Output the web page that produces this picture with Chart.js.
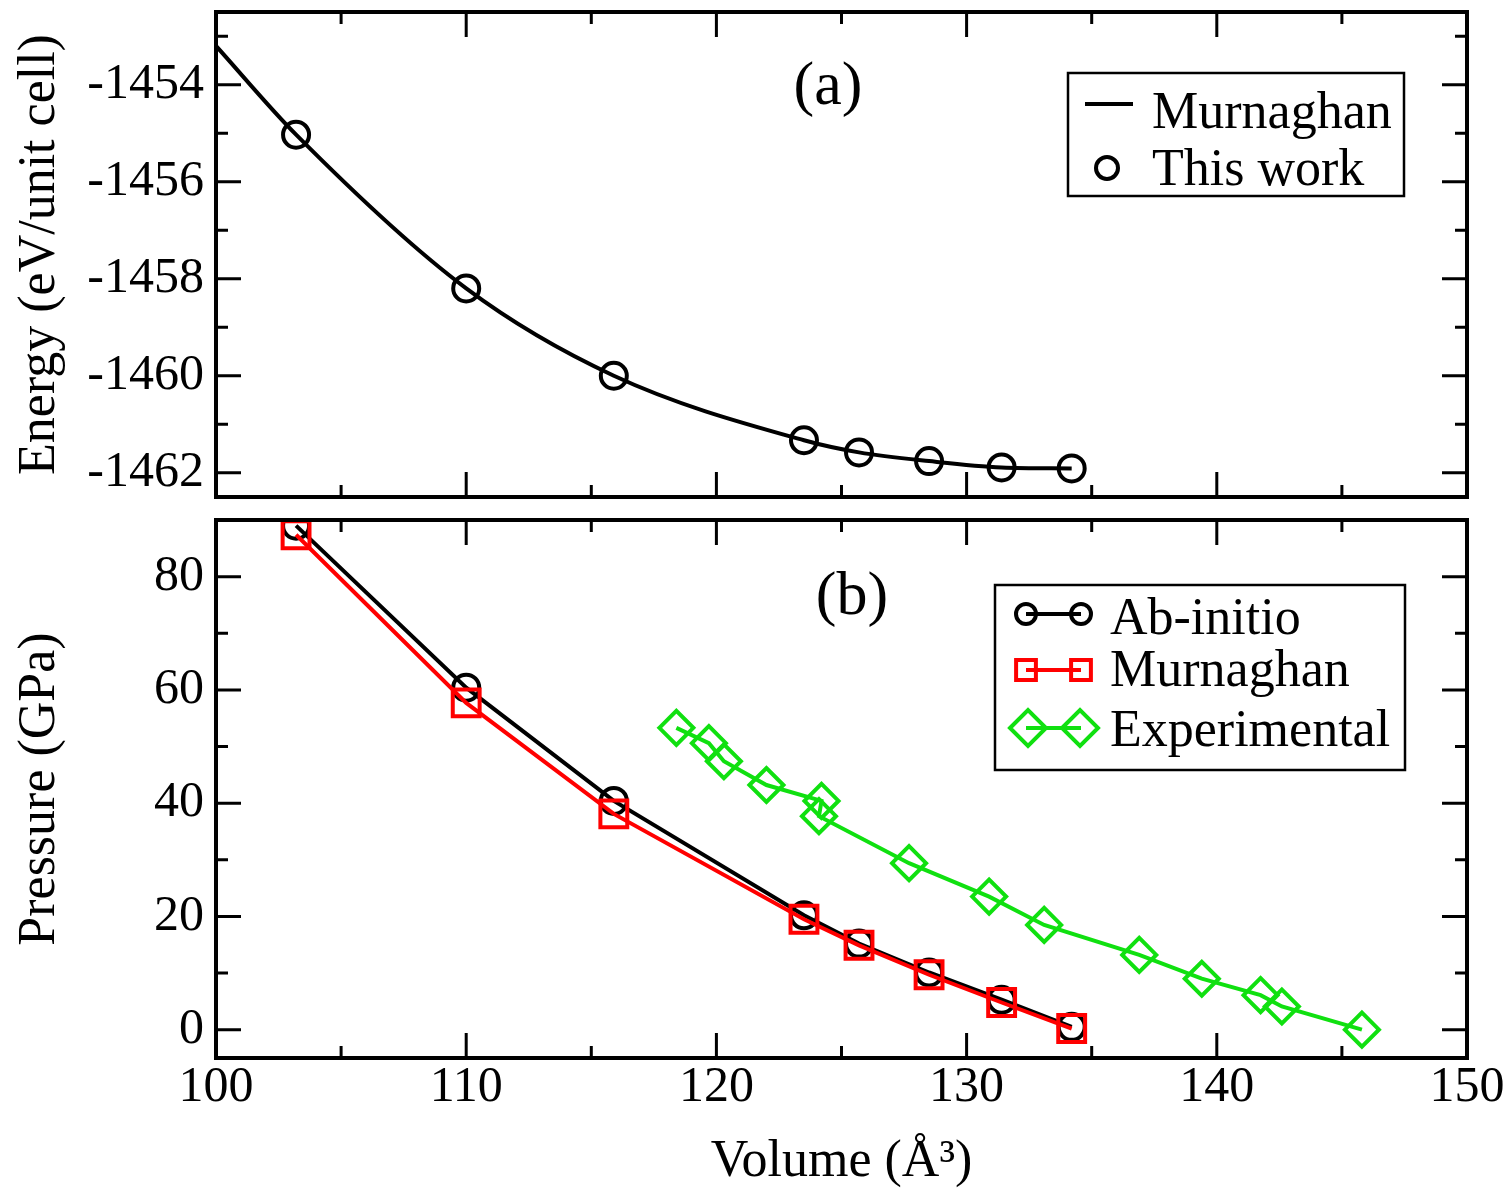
<!DOCTYPE html>
<html>
<head>
<meta charset="utf-8">
<script src="https://cdn.jsdelivr.net/npm/chart.js@4.4.0/dist/chart.umd.min.js"></script>
<style>
  body { margin: 0; background: #fff; font-family: "Liberation Serif", serif; }
  #wrap { position: relative; width: 1509px; height: 1188px; overflow: hidden; }
  canvas { position: absolute; left: 0; }
  #probe { position: absolute; left: -9999px; font-family: "Liberation Serif"; }
</style>
</head>
<body>
<div id="probe">Volume 0123456789</div>
<div id="wrap">
  <canvas id="energyChart" width="1509" height="510" style="top:0px"></canvas>
  <canvas id="pressureChart" width="1509" height="678" style="top:510px"></canvas>
</div>
<script>
// shared volume axis
const volumeTicks = [100, 110, 120, 130, 140, 150]
const volumeMinor = [105, 115, 125, 135, 145]

// (a) energy vs volume
const calcVolume = [103.2, 110.0, 115.9, 123.5, 125.7, 128.5, 131.4, 134.2]
const calcEnergy = [-1455.03, -1458.2, -1460.0, -1461.33, -1461.58, -1461.76, -1461.89, -1461.91]
const fitVolume = [100, 103.2, 110.0, 115.9, 123.5, 125.7, 128.5, 131.4, 134.2]
const fitEnergy = [-1453.2, -1455.03, -1458.2, -1460.0, -1461.33, -1461.58, -1461.76, -1461.89, -1461.91]
const energyTicks = [-1462, -1460, -1458, -1456, -1454]
const energyMinor = [-1461, -1459, -1457, -1455, -1453]

// (b) pressure vs volume (ab-initio and murnaghan use calcVolume)
const abinitioPressure = [89.0, 60.4, 40.4, 20.2, 15.2, 10.1, 5.3, 0.5]
const murnaghanPressure = [87.4, 57.7, 38.1, 19.5, 14.9, 9.7, 4.8, 0.2]
const expVolume = [118.4, 119.7, 120.3, 122.0, 124.2, 124.1, 127.7, 130.9, 133.1, 136.9, 139.4, 141.75, 142.6, 145.8]
const expPressure = [53.3, 50.6, 47.4, 43.2, 40.4, 37.7, 29.4, 23.5, 18.5, 13.2, 9.0, 6.1, 4.1, 0.0]
const pressureTicks = [0, 20, 40, 60, 80]
const pressureMinor = [10, 30, 50, 70]

const SERIF = '"Liberation Serif", "Times New Roman", Times, serif'
const GREEN = '#10e010'
const RED = '#ff0000'

function pts(xs, ys) {
    return xs.map((x, i) => ({ x: x, y: ys[i] }))
}

// frame with inward ticks on all sides, panel label and boxed legend
// (label / legend positions are page coordinates)
const framePlugin = {
    id: 'frame',
    afterDraw(chart, args, o) {
        const ctx = chart.ctx
        const a = chart.chartArea
        const sx = chart.scales.x
        const sy = chart.scales.y
        const off = parseFloat(chart.canvas.style.top) || 0
        ctx.save()
        ctx.strokeStyle = '#000'
        ctx.lineWidth = 3
        ctx.beginPath()
        const xt = (vals, len) => vals.forEach(v => {
            const px = sx.getPixelForValue(v)
            ctx.moveTo(px, a.bottom); ctx.lineTo(px, a.bottom - len)
            ctx.moveTo(px, a.top); ctx.lineTo(px, a.top + len)
        })
        const yt = (vals, len) => vals.forEach(v => {
            const py = sy.getPixelForValue(v)
            ctx.moveTo(a.left, py); ctx.lineTo(a.left + len, py)
            ctx.moveTo(a.right, py); ctx.lineTo(a.right - len, py)
        })
        xt(volumeTicks, 25)
        xt(volumeMinor, 12)
        yt(o.yMajor, 25)
        yt(o.yMinor, 12)
        ctx.stroke()
        ctx.lineWidth = 4
        ctx.strokeRect(a.left, a.top, a.right - a.left, a.bottom - a.top)

        ctx.translate(0, -off)
        ctx.fillStyle = '#000'
        ctx.textAlign = 'center'
        ctx.textBaseline = 'middle'
        ctx.font = '62px ' + SERIF
        ctx.fillText(o.label, o.labelX, o.labelY)

        // legend box
        const b = o.legend.box
        ctx.fillStyle = '#fff'
        ctx.fillRect(b[0], b[1], b[2] - b[0], b[3] - b[1])
        ctx.lineWidth = 2.5
        ctx.strokeRect(b[0], b[1], b[2] - b[0], b[3] - b[1])
        ctx.textAlign = 'left'
        ctx.textBaseline = 'alphabetic'
        ctx.font = '52px ' + SERIF
        o.legend.rows.forEach(r => {
            const ds = chart.data.datasets[r.ds]
            ctx.strokeStyle = ds.borderColor
            ctx.fillStyle = 'rgba(0,0,0,0)'
            if (r.line) {
                ctx.lineWidth = 4
                ctx.beginPath()
                ctx.moveTo(r.line[0], r.my)
                ctx.lineTo(r.line[1], r.my)
                ctx.stroke()
            }
            if (r.marks) {
                r.marks.forEach(mx => {
                    Chart.helpers.drawPoint(ctx, {
                        pointStyle: ds.pointStyle, radius: r.radius, borderWidth: 4, rotation: 0
                    }, mx, r.my)
                })
            }
            ctx.fillStyle = '#000'
            ctx.fillText(ds.label, o.legend.textX, r.base)
        })
        ctx.restore()
    }
}

function yAxis(min, max, ticks, title) {
    return {
        type: 'linear',
        min: min,
        max: max,
        afterBuildTicks: s => { s.ticks = ticks.map(v => ({ value: v })) },
        afterFit: s => {
            s.width = 216
            s.paddingTop = 0
            s.paddingBottom = 0
        },
        grid: { display: false, drawTicks: false },
        border: { display: false },
        ticks: {
            padding: 12, color: '#000', font: { family: SERIF, size: 50 },
            callback: v => String(v)
        },
        title: {
            display: true, text: title, color: '#000',
            font: { family: SERIF, size: 52, lineHeight: 1 },
            padding: { top: 14, bottom: 0 }
        }
    }
}

// grow/shift the canvas until the plot frame sits on the wanted page rows
function pinFrame(chart, top, bottom) {
    for (let i = 0; i < 3; i++) {
        const a = chart.chartArea
        const grow = Math.round((bottom - top) - (a.bottom - a.top))
        if (grow === 0) break
        chart.resize(chart.width, chart.height + grow)
    }
    chart.canvas.style.top = Math.round(top - chart.chartArea.top) + 'px'
    chart.draw()
}

const baseOptions = {
    responsive: false,
    maintainAspectRatio: false,
    animation: false,
    devicePixelRatio: 1
}

function build() {
    Chart.defaults.font.family = SERIF

    const energyChart = new Chart(document.getElementById('energyChart'), {
        type: 'scatter',
        data: {
            datasets: [{
                label: 'Murnaghan',
                data: pts(fitVolume, fitEnergy),
                showLine: true,
                borderColor: '#000',
                borderWidth: 4,
                pointRadius: 0,
                cubicInterpolationMode: 'monotone',
                order: 1
            }, {
                label: 'This work',
                data: pts(calcVolume, calcEnergy),
                pointStyle: 'circle',
                pointRadius: 13,
                pointBorderWidth: 4,
                borderColor: '#000',
                backgroundColor: 'rgba(0,0,0,0)',
                order: 0
            }]
        },
        options: Object.assign({}, baseOptions, {
            layout: { padding: { top: 12, right: 42, bottom: 13, left: 0 } },
            plugins: {
                legend: { display: false },
                tooltip: { enabled: false },
                frame: {
                    yMajor: energyTicks, yMinor: energyMinor,
                    label: '(a)', labelX: 828, labelY: 88,
                    legend: {
                        box: [1068, 73, 1404, 196],
                        textX: 1152,
                        rows: [
                            { ds: 0, line: [1085, 1133], my: 104, base: 128 },
                            { ds: 1, marks: [1107], radius: 11, my: 168, base: 185 }
                        ]
                    }
                }
            },
            scales: {
                x: { type: 'linear', display: false, min: 100, max: 150 },
                y: yAxis(-1462.5, -1452.5, energyTicks, 'Energy (eV/unit cell)')
            }
        }),
        plugins: [framePlugin]
    })
    pinFrame(energyChart, 12, 497)

    const pressureChart = new Chart(document.getElementById('pressureChart'), {
        type: 'scatter',
        data: {
            datasets: [{
                label: 'Ab-initio',
                data: pts(calcVolume, abinitioPressure),
                showLine: true,
                borderColor: '#000',
                borderWidth: 4,
                pointStyle: 'circle',
                pointRadius: 13,
                pointBorderWidth: 4,
                backgroundColor: 'rgba(0,0,0,0)',
                clip: 0,
                order: 2
            }, {
                label: 'Murnaghan',
                data: pts(calcVolume, murnaghanPressure),
                showLine: true,
                borderColor: RED,
                borderWidth: 4,
                pointStyle: 'rect',
                pointRadius: 19,
                pointBorderWidth: 4,
                backgroundColor: 'rgba(0,0,0,0)',
                clip: 0,
                order: 1
            }, {
                label: 'Experimental',
                data: pts(expVolume, expPressure),
                showLine: true,
                borderColor: GREEN,
                borderWidth: 4,
                pointStyle: 'rectRot',
                pointRadius: 17,
                pointBorderWidth: 4,
                backgroundColor: 'rgba(0,0,0,0)',
                order: 0
            }]
        },
        options: Object.assign({}, baseOptions, {
            layout: { padding: { top: 10, right: 42, bottom: 0, left: 0 } },
            plugins: {
                legend: { display: false },
                tooltip: { enabled: false },
                frame: {
                    yMajor: pressureTicks, yMinor: pressureMinor,
                    label: '(b)', labelX: 852, labelY: 598,
                    legend: {
                        box: [995, 585, 1405, 770],
                        textX: 1110,
                        rows: [
                            { ds: 0, line: [1026, 1081], marks: [1026, 1081], radius: 10, my: 614, base: 634 },
                            { ds: 1, line: [1026, 1081], marks: [1026, 1081], radius: 14, my: 670, base: 686 },
                            { ds: 2, line: [1026, 1081], marks: [1028, 1080], radius: 18, my: 728, base: 746 }
                        ]
                    }
                }
            },
            scales: {
                x: {
                    type: 'linear',
                    min: 100,
                    max: 150,
                    afterBuildTicks: s => { s.ticks = volumeTicks.map(v => ({ value: v })) },
                    afterFit: s => {
                        s.height = 130
                        s.paddingLeft = 0
                        s.paddingRight = 0
                    },
                    grid: { display: false, drawTicks: false },
                    border: { display: false },
                    ticks: {
                        padding: 0, color: '#000', font: { family: SERIF, size: 50 },
                        maxRotation: 0, callback: v => String(v)
                    },
                    title: {
                        display: true, text: 'Volume (Å³)', color: '#000',
                        font: { family: SERIF, size: 52, lineHeight: 1 },
                        padding: { top: 0, bottom: 0 }
                    }
                },
                y: yAxis(-5, 90, pressureTicks, 'Pressure (GPa)')
            }
        }),
        plugins: [framePlugin]
    })
    pinFrame(pressureChart, 520, 1058)
}

if (document.fonts && document.fonts.load) {
    document.fonts.load('50px "Liberation Serif"').then(build, build)
} else {
    build()
}
</script>
</body>
</html>
